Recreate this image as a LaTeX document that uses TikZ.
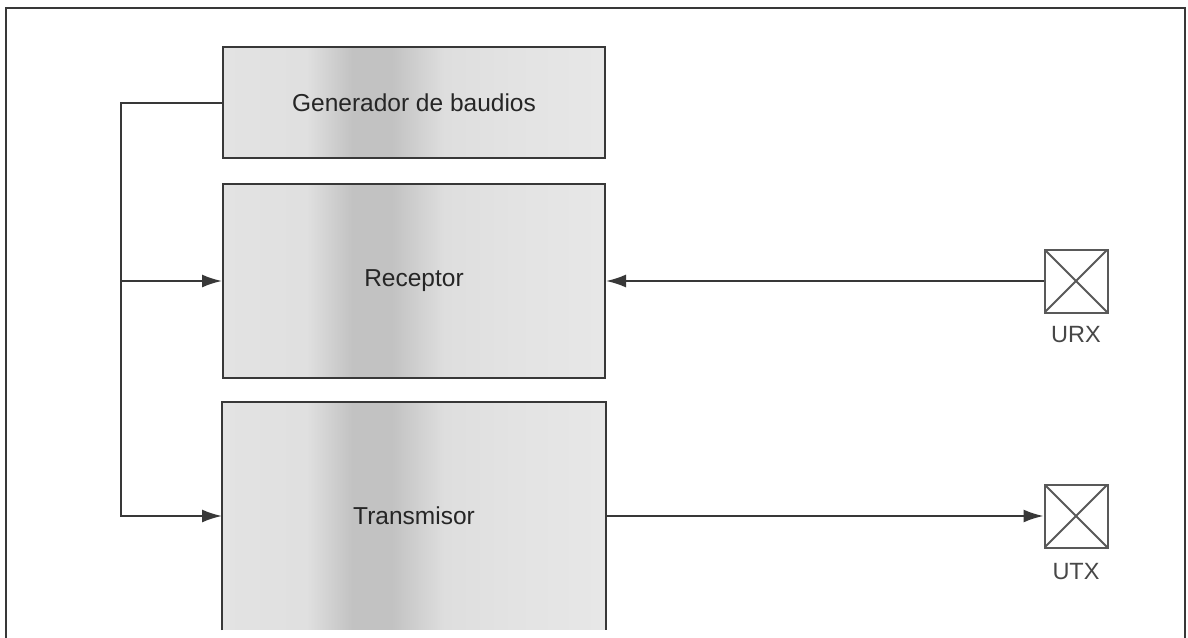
\documentclass[tikz,border=0pt]{standalone}
\usepackage{fontspec}
\setmainfont{Liberation Sans}
\usetikzlibrary{arrows.meta}
\definecolor{edgeg}{gray}{0.89}
\definecolor{bandg}{gray}{0.76}
\definecolor{lineg}{gray}{0.22}
\definecolor{textg}{gray}{0.15}
\definecolor{ping}{gray}{0.35}
\pgfdeclarehorizontalshading{boxshade}{100bp}{color(0bp)=(edgeg); color(25bp)=(edgeg); color(36bp)=(edgeg!90!bandg); color(42bp)=(bandg); color(47bp)=(bandg); color(54bp)=(edgeg!85!bandg); color(63bp)=(edgeg); color(75bp)=(edgeg!85!white); color(100bp)=(edgeg!85!white)}
\tikzset{
  blockbox/.style={shading=boxshade, draw=lineg, line width=2pt, minimum width=382pt, text=textg, font=\fontsize{24.5}{29}\selectfont, inner sep=0pt},
  conn/.style={draw=lineg, line width=2pt},
  arr/.style={conn, -{Latex[length=20pt,width=13pt]}},
  pinbox/.style={draw=ping, line width=2pt, minimum width=63pt, minimum height=63pt, inner sep=0pt,
    path picture={\draw[ping, line width=1.8pt] (path picture bounding box.north west) -- (path picture bounding box.south east)
      (path picture bounding box.north east) -- (path picture bounding box.south west);}},
  pinlabel/.style={text=ping!80!black, font=\fontsize{23.5}{28}\selectfont, inner sep=0pt}
}
\begin{document}
\begin{tikzpicture}[x=1pt, y=-1pt]
\useasboundingbox (0,0) rectangle (1188,637);
\fill[white] (0,0) rectangle (1188,637);
% outer frame (open at bottom)
\draw[lineg, line width=2pt] (6,640) -- (6,8) -- (1185,8) -- (1185,640);
% blocks
\node[blockbox, minimum height=111pt] (G) at (414,102.5) {Generador de baudios};
\node[blockbox, minimum height=194pt] (R) at (414,281) {Receptor};
\node[blockbox, draw=none, minimum height=226pt] (T) at (414,516) {Transmisor};
\draw[lineg, line width=2pt] (T.south west) -- (T.north west) -- (T.north east) -- (T.south east);
% pins
\node[pinbox] (URX) at (1076,281) {};
\node[pinlabel] (URXl) at (1076,335) {URX};
\node[pinbox] (UTX) at (1076,516) {};
\node[pinlabel] (UTXl) at (1076,572) {UTX};
% bus
\coordinate (b1) at (121,102.5);
\coordinate (b2) at (121,281);
\coordinate (b3) at (121,516);
\draw[arr] (G.west) -- (b1) -- (b3) -- (T.west);
\draw[arr] (b2) -- (R.west);
\draw[arr] (URX.west) -- (R.east);
\draw[arr] (T.east) -- (UTX.west);
\end{tikzpicture}
\end{document}
